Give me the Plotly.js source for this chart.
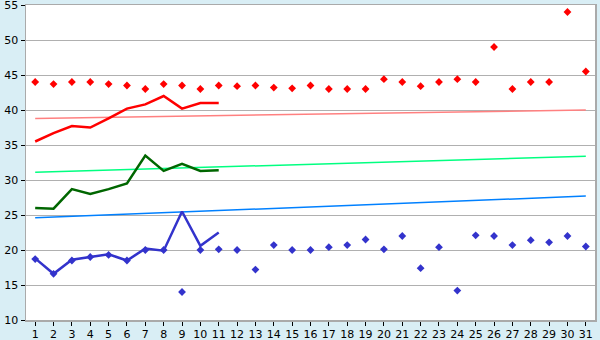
<!DOCTYPE html>
<html>
<head>
<meta charset="utf-8">
<script src="https://cdn.plot.ly/plotly-3.0.1.min.js"></script>
<style>html,body{margin:0;padding:0;background:#d9eef5;}#chart{width:600px;height:340px;}</style>
</head>
<body>
<div id="chart"></div>
<script>
var days = [];
for (var d = 1; d <= 31; d++) days.push(d);

var maxTemps = [44, 43.7, 44, 44, 43.7, 43.5, 43, 43.7, 43.5, 43, 43.5, 43.4, 43.5, 43.2, 43.1,
  43.5, 43, 43, 43, 44.4, 44, 43.4, 44, 44.4, 44, 49, 43, 44, 44, 54, 45.5];
var minTemps = [18.7, 16.6, 18.5, 19, 19.3, 18.5, 20, 20, 14, 20, 20.1, 20, 17.2, 20.7, 20,
  20, 20.4, 20.7, 21.5, 20.1, 22, 17.4, 20.4, 14.2, 22.1, 22, 20.7, 21.4, 21.1, 22, 20.5];

var lineDays = [1, 2, 3, 4, 5, 6, 7, 8, 9, 10, 11];
var maxLine = [35.5, 36.7, 37.7, 37.5, 38.8, 40.2, 40.8, 42, 40.2, 41, 41];
var avgLine = [26, 25.9, 28.7, 28, 28.7, 29.5, 33.5, 31.3, 32.3, 31.3, 31.4];
var minLine = [18.8, 16.6, 18.6, 19, 19.4, 18.5, 20.2, 19.9, 25.5, 20.6, 22.5];

var trendDays = [1, 31];
var trendMax = [38.8, 40.0];
var trendAvg = [31.1, 33.4];
var trendMin = [24.6, 27.7];

var traces = [
  {x: trendDays, y: trendMax, mode: 'lines', line: {color: '#ff8080', width: 1.5}, hoverinfo: 'skip'},
  {x: trendDays, y: trendAvg, mode: 'lines', line: {color: '#00ff80', width: 1.5}, hoverinfo: 'skip'},
  {x: trendDays, y: trendMin, mode: 'lines', line: {color: '#0080ff', width: 1.5}, hoverinfo: 'skip'},
  {x: days, y: maxTemps, mode: 'markers', marker: {symbol: 'diamond', size: 6, color: '#ff0000'}},
  {x: days, y: minTemps, mode: 'markers', marker: {symbol: 'diamond', size: 6, color: '#3333cc'}},
  {x: lineDays, y: maxLine, mode: 'lines', line: {color: '#ff0000', width: 2.5}},
  {x: lineDays, y: avgLine, mode: 'lines', line: {color: '#006600', width: 2.5}},
  {x: lineDays, y: minLine, mode: 'lines', line: {color: '#3333cc', width: 2.5}}
];

var layout = {
  width: 600, height: 340,
  paper_bgcolor: '#d9eef5',
  plot_bgcolor: '#ffffff',
  showlegend: false,
  margin: {l: 26, r: 5, t: 5, b: 20, pad: 0},
  font: {family: 'DejaVu Sans, Verdana, sans-serif', size: 11, color: '#000'},
  xaxis: {
    range: [0.5, 31.5], tickvals: days, ticktext: days.map(String),
    showgrid: false, zeroline: false,
    showline: true, linecolor: '#aaaaaa', linewidth: 1.5, mirror: true,
    ticks: 'outside', ticklen: 4, tickcolor: '#000', tickwidth: 1,
    ticklabelstandoff: -1, ticklabeloverflow: 'allow',
    tickfont: {size: 11}
  },
  yaxis: {
    range: [10, 55], dtick: 5, tick0: 10,
    showgrid: true, gridcolor: '#b0b0b0', gridwidth: 1,
    zeroline: false,
    showline: true, linecolor: '#aaaaaa', linewidth: 1.5, mirror: true,
    ticks: 'outside', ticklen: 4, tickcolor: '#000', tickwidth: 1,
    ticklabeloverflow: 'allow',
    tickfont: {size: 11}
  }
};

Plotly.newPlot('chart', traces, layout, {staticPlot: true, displayModeBar: false});
</script>
</body>
</html>
